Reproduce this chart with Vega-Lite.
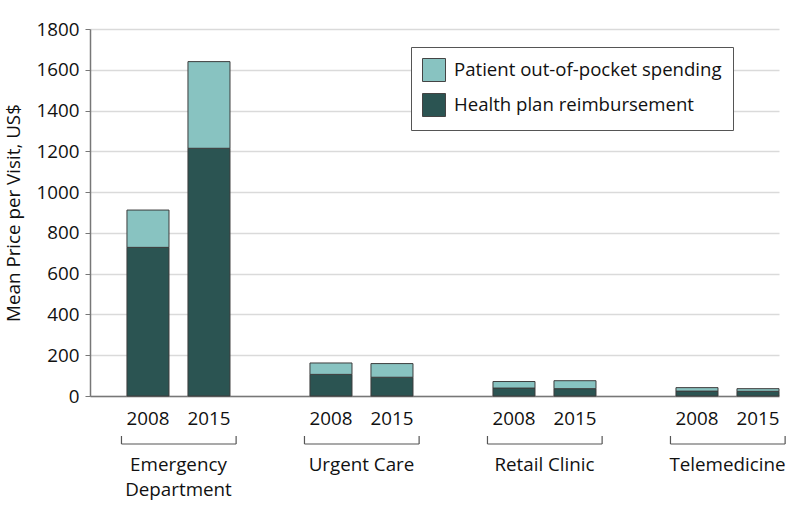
{
  "$schema": "https://vega.github.io/schema/vega-lite/v6.json",
  "width": 689,
  "height": 367,
  "autosize": {"type": "none"},
  "padding": {"left": 90, "top": 29, "right": 19, "bottom": 126},
  "background": "white",
  "config": {
    "view": {"stroke": null},
    "font": "Open Sans",
    "axis": {"labelFont": "Open Sans", "titleFont": "Open Sans", "labelColor": "#111", "titleColor": "#111"}
  },
  "datasets": {
    "bars": [
      {"bar": "ED 2008", "group": "Emergency Department", "year": "2008", "type": "Health plan reimbursement", "value": 729},
      {"bar": "ED 2008", "group": "Emergency Department", "year": "2008", "type": "Patient out-of-pocket spending", "value": 183},
      {"bar": "ED 2015", "group": "Emergency Department", "year": "2015", "type": "Health plan reimbursement", "value": 1215},
      {"bar": "ED 2015", "group": "Emergency Department", "year": "2015", "type": "Patient out-of-pocket spending", "value": 425},
      {"bar": "UC 2008", "group": "Urgent Care", "year": "2008", "type": "Health plan reimbursement", "value": 106},
      {"bar": "UC 2008", "group": "Urgent Care", "year": "2008", "type": "Patient out-of-pocket spending", "value": 56},
      {"bar": "UC 2015", "group": "Urgent Care", "year": "2015", "type": "Health plan reimbursement", "value": 92},
      {"bar": "UC 2015", "group": "Urgent Care", "year": "2015", "type": "Patient out-of-pocket spending", "value": 67},
      {"bar": "RC 2008", "group": "Retail Clinic", "year": "2008", "type": "Health plan reimbursement", "value": 39},
      {"bar": "RC 2008", "group": "Retail Clinic", "year": "2008", "type": "Patient out-of-pocket spending", "value": 32},
      {"bar": "RC 2015", "group": "Retail Clinic", "year": "2015", "type": "Health plan reimbursement", "value": 36},
      {"bar": "RC 2015", "group": "Retail Clinic", "year": "2015", "type": "Patient out-of-pocket spending", "value": 39},
      {"bar": "TM 2008", "group": "Telemedicine", "year": "2008", "type": "Health plan reimbursement", "value": 24},
      {"bar": "TM 2008", "group": "Telemedicine", "year": "2008", "type": "Patient out-of-pocket spending", "value": 17},
      {"bar": "TM 2015", "group": "Telemedicine", "year": "2015", "type": "Health plan reimbursement", "value": 23},
      {"bar": "TM 2015", "group": "Telemedicine", "year": "2015", "type": "Patient out-of-pocket spending", "value": 13}
    ],
    "groups": [
      {"group": "Emergency Department"},
      {"group": "Urgent Care"},
      {"group": "Retail Clinic"},
      {"group": "Telemedicine"}
    ]
  },
  "layer": [
    {
      "data": {"name": "bars"},
      "mark": {"type": "bar", "stroke": "#3d3d3d", "strokeWidth": 1},
      "encoding": {
        "x": {
          "field": "bar",
          "type": "nominal",
          "scale": {
            "domain": ["ED 2008", "ED 2015", "g1", "UC 2008", "UC 2015", "g2", "RC 2008", "RC 2015", "g3", "TM 2008", "TM 2015"],
            "paddingInner": 0.311,
            "paddingOuter": 0.303,
            "align": 1
          },
          "axis": {
            "title": null,
            "ticks": false,
            "tickSize": 0,
            "domainColor": "#777",
            "domainWidth": 1.5,
            "labelAngle": 0,
            "labelFontSize": 18.8,
            "labelPadding": 13,
            "labelOverlap": false,
            "labelExpr": "length(datum.label) > 4 ? slice(datum.label, -4) : ''"
          }
        },
        "y": {
          "field": "value",
          "type": "quantitative",
          "stack": "zero",
          "scale": {"domain": [0, 1800], "nice": false},
          "axis": {
            "title": "Mean Price per Visit, US$",
            "titleFontSize": 18.8,
            "titleFontWeight": "normal",
            "titlePadding": 13,
            "format": "d",
            "values": [0, 200, 400, 600, 800, 1000, 1200, 1400, 1600, 1800],
            "labelFontSize": 18.8,
            "labelPadding": 6,
            "tickSize": 5,
            "tickColor": "#777",
            "domainColor": "#777",
            "domainWidth": 1.5,
            "gridColor": "#dadada",
            "gridWidth": 1.5
          }
        },
        "color": {
          "field": "type",
          "type": "nominal",
          "scale": {
            "domain": ["Patient out-of-pocket spending", "Health plan reimbursement"],
            "range": ["#88c3c1", "#2b5452"]
          },
          "legend": {
            "title": null,
            "orient": "none",
            "legendX": 321,
            "legendY": 18,
            "strokeColor": "#555",
            "fillColor": "white",
            "padding": 11,
            "symbolType": "square",
            "symbolSize": 529,
            "symbolStrokeColor": "#444",
            "symbolStrokeWidth": 1,
            "labelFont": "Open Sans",
            "labelFontSize": 18.6,
            "labelColor": "#111",
            "labelOffset": 8,
            "labelLimit": 400,
            "rowPadding": 7
          }
        },
        "order": {"field": "type", "sort": "ascending"}
      }
    },
    {
      "data": {"name": "groups"},
      "layer": [
        {
          "mark": {"type": "rule", "color": "#555", "strokeWidth": 1.2},
          "encoding": {
            "x": {
              "field": "group", "type": "nominal", "bandPosition": -0.123,
              "scale": {"domain": ["Emergency Department", "Urgent Care", "Retail Clinic", "Telemedicine"], "paddingInner": 0.5, "paddingOuter": 0.1325, "align": 0.881},
              "axis": {"title": null, "orient": "bottom", "domain": false, "ticks": false, "tickSize": 0, "grid": false, "labelAngle": 0, "labelFontSize": 18.8, "labelPadding": 59, "labelLineHeight": 25, "labelOverlap": false, "labelExpr": "datum.label == 'Emergency Department' ? ['Emergency', 'Department'] : datum.label"}
            },
            "x2": {"field": "group", "bandPosition": 1.13},
            "y": {"value": 415}
          }
        },
        {
          "mark": {"type": "rule", "color": "#555", "strokeWidth": 1.2},
          "encoding": {
            "x": {
              "field": "group", "type": "nominal", "bandPosition": -0.123,
              "scale": {"domain": ["Emergency Department", "Urgent Care", "Retail Clinic", "Telemedicine"], "paddingInner": 0.5, "paddingOuter": 0.1325, "align": 0.881},
              "axis": {"title": null, "orient": "bottom", "domain": false, "ticks": false, "tickSize": 0, "grid": false, "labelAngle": 0, "labelFontSize": 18.8, "labelPadding": 59, "labelLineHeight": 25, "labelOverlap": false, "labelExpr": "datum.label == 'Emergency Department' ? ['Emergency', 'Department'] : datum.label"}
            },
            "y": {"value": 407},
            "y2": {"value": 415}
          }
        },
        {
          "mark": {"type": "rule", "color": "#555", "strokeWidth": 1.2},
          "encoding": {
            "x": {
              "field": "group", "type": "nominal", "bandPosition": 1.13,
              "scale": {"domain": ["Emergency Department", "Urgent Care", "Retail Clinic", "Telemedicine"], "paddingInner": 0.5, "paddingOuter": 0.1325, "align": 0.881},
              "axis": {"title": null, "orient": "bottom", "domain": false, "ticks": false, "tickSize": 0, "grid": false, "labelAngle": 0, "labelFontSize": 18.8, "labelPadding": 59, "labelLineHeight": 25, "labelOverlap": false, "labelExpr": "datum.label == 'Emergency Department' ? ['Emergency', 'Department'] : datum.label"}
            },
            "y": {"value": 407},
            "y2": {"value": 415}
          }
        }
      ]
    }
  ],
  "resolve": {"scale": {"x": "independent"}, "axis": {"x": "independent"}}
}
